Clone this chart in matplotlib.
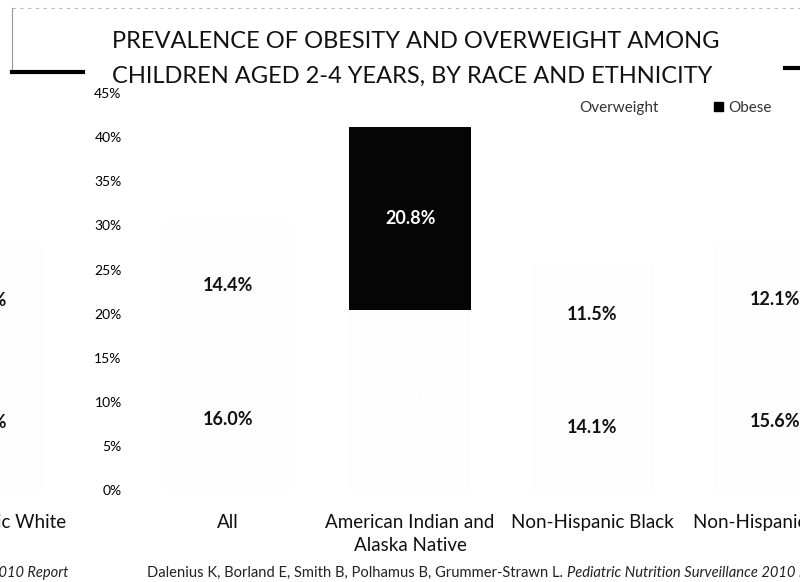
import numpy as np
import matplotlib.pyplot as plt
from matplotlib.patches import Patch

plt.rcParams['font.family'] = ['Lato', 'DejaVu Sans']

groups = ["Non-Hispanic White", "All", "American Indian and\nAlaska Native",
          "Non-Hispanic Black", "Non-Hispanic Asian"]
overweight = [15.4, 16.0, 20.4, 14.1, 15.6]
obese = [12.2, 14.4, 20.8, 11.5, 12.1]
yticks = np.arange(0, 46, 5)

fig = plt.figure(figsize=(8, 5.82), dpi=100)
# axes run past the left edge so the cut-off first group still gets its tick label
ax = fig.add_axes([-0.15, 0.158, 1.15, 0.682])

x = np.arange(len(groups), dtype=float)
x[0] -= 0.35  # left strip of the scanned slide sits shifted

light = '#fdfdfd'
top_col = [light, light, '#050505', light, light]
ax.bar(x, overweight, width=0.67, color=light)
ax.bar(x, obese, width=0.67, bottom=overweight, color=top_col)

for i in range(len(groups)):
    c = 'white' if i == 2 else '#111111'
    ax.text(x[i], overweight[i] / 2, f"{overweight[i]:.1f}%", ha='center', va='center',
            fontsize=13, fontweight='bold', color=c)
    ax.text(x[i], overweight[i] + obese[i] / 2, f"{obese[i]:.1f}%", ha='center', va='center',
            fontsize=13, fontweight='bold', color=c)

ax.set_ylim(0, 45)
ax.set_yticks(yticks)
ax.set_yticklabels([f"{t}%" for t in yticks], fontsize=8.5, color='#333333')
ax.set_xticks(x)
ax.set_xticklabels(groups, fontsize=13.5, color='#111111', linespacing=1.45)
ax.tick_params(axis='x', length=0, pad=17)
ax.tick_params(axis='y', length=0, pad=3)
for s in ['top', 'right', 'bottom']:
    ax.spines[s].set_visible(False)
ax.spines['left'].set_position(('data', 0.44))
ax.spines['left'].set_visible(False)
ax.patch.set_alpha(0)

handles = [Patch(color='white'), Patch(color='black')]
leg = fig.legend(handles, ['Overweight', 'Obese'], loc='center right',
                 bbox_to_anchor=(772 / 800, 1 - 108 / 582),
                 ncol=2, frameon=False, fontsize=11, handlelength=0.6, handleheight=0.6,
                 columnspacing=3.6, handletextpad=0.35, borderaxespad=0, borderpad=0)
for t in leg.get_texts():
    t.set_color('#333333')

fig.text(112 / 800, 1 - 42 / 582, "PREVALENCE OF OBESITY AND OVERWEIGHT AMONG",
         fontsize=17, ha='left', va='center', color='#111111')
fig.text(112 / 800, 1 - 76 / 582, "CHILDREN AGED 2-4 YEARS, BY RACE AND ETHNICITY",
         fontsize=17, ha='left', va='center', color='#111111')

# slide frame remnants
fig.add_artist(plt.Line2D([12 / 800, 1], [1 - 8 / 582] * 2, color='#bbbbbb', lw=0.8, ls=(0, (3, 4))))
fig.add_artist(plt.Line2D([12 / 800] * 2, [1 - 8 / 582, 1 - 70 / 582], color='#999999', lw=0.8))
fig.add_artist(plt.Line2D([12 / 800, 83 / 800], [1 - 72 / 582] * 2, color='black', lw=3))
fig.add_artist(plt.Line2D([785 / 800, 799 / 800], [1 - 68 / 582] * 2, color='black', lw=3))

fig.text(68 / 800, 1 - 573 / 582, "2010 Report", fontsize=10.5, style='italic',
         ha='right', va='center', color='#222222')
cite = fig.text(147 / 800, 1 - 573 / 582,
                "Dalenius K, Borland E, Smith B, Polhamus B, Grummer-Strawn L. ",
                fontsize=10.6, ha='left', va='center', color='#222222')
cite_it = fig.text(0, 1 - 573 / 582, "Pediatric Nutrition Surveillance 2010 Report", fontsize=10.6,
                   style='italic', color='#222222', ha='left', va='center')

# x range chosen so group spacing and position match the slide
ax.set_xlim(-0.25 - 0.15 * 800 / 182.3, -0.25 + 800 / 182.3)

fig.canvas.draw()
bb = cite.get_window_extent().transformed(fig.transFigure.inverted())
cite_it.set_x(bb.x1)

fig.savefig("out.png")
